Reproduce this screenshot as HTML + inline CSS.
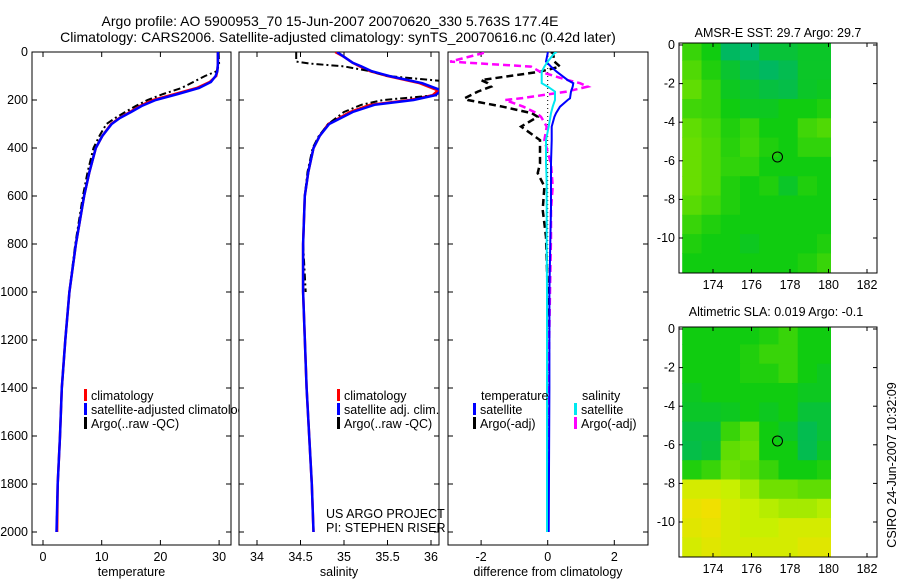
<!DOCTYPE html>
<html><head><meta charset="utf-8"><style>
html,body{margin:0;padding:0;background:#fff}
svg{display:block;font-family:"Liberation Sans",sans-serif}
</style></head><body>
<svg id="fig" width="900" height="580" viewBox="0 0 900 580">
<text x="330" y="26" font-size="14" text-anchor="middle">Argo profile: AO 5900953_70 15-Jun-2007 20070620_330 5.763S 177.4E</text>
<text x="338" y="42" font-size="14" text-anchor="middle">Climatology: CARS2006. Satellite-adjusted climatology: synTS_20070616.nc (0.42d later)</text>
<text x="778" y="37" font-size="12.5" text-anchor="middle">AMSR-E SST: 29.7 Argo: 29.7</text>
<text x="776" y="316" font-size="12.5" text-anchor="middle">Altimetric SLA: 0.019 Argo: -0.1</text>
<text transform="translate(896,465) rotate(-90)" font-size="12.5" text-anchor="middle">CSIRO 24-Jun-2007 10:32:09</text>
</svg>
<script>
// ---- data ----
const depthT = [0,50,80,100,125,150,175,200,225,250,275,300,350,400,500,600,800,1000,1200,1400,1600,1800,2000];
const climT  = [29.8,29.8,29.7,29.5,28.4,26.2,22.5,18.7,16.5,14.8,13.0,11.6,10.1,9.0,7.9,7.0,5.6,4.5,3.8,3.2,2.9,2.5,2.4];
const satT   = [29.8,29.8,29.7,29.4,28.6,26.6,23.0,19.2,16.8,15.0,13.1,11.7,10.1,9.0,7.9,7.0,5.6,4.5,3.8,3.2,2.9,2.5,2.3];
const argoT  = [29.9,30.0,29.6,27.6,25.6,23.6,20.5,17.8,15.8,14.0,12.3,10.8,9.6,8.6,7.6,6.8,5.5,4.5,3.8,3.2,2.9,2.5,2.3];
const depthS = [0,20,45,60,80,100,130,160,180,200,220,250,300,350,400,500,600,800,1000,1400,1600,1800,2000];
const climS  = [34.9,35.0,35.1,35.18,35.3,35.5,35.87,36.08,36.02,35.76,35.3,35.07,34.82,34.72,34.65,34.59,34.55,34.53,34.53,34.57,34.6,34.63,34.65];
const satS   = [34.92,35.0,35.1,35.2,35.32,35.52,35.9,36.12,36.05,35.8,35.35,35.1,34.83,34.72,34.65,34.59,34.55,34.53,34.53,34.57,34.6,34.63,34.65];
const depthSA= [0,40,48,60,80,100,120,140,160,180,200,220,250,300,350,400,500,600,800,1000];
const argoS  = [34.45,34.45,34.6,35.0,35.3,35.5,36.1,36.3,36.2,36.07,35.45,35.2,35.0,34.82,34.71,34.64,34.58,34.55,34.53,34.56];
const depthD = [0,5,40,61,82,117,130,144,165,193,200,228,255,270,311,367,465,505,560,658,770,1000,1400,2000];
const dTargo = [0.1,0.16,0.2,0.37,-0.23,-2.0,-1.8,-1.7,-2.1,-2.5,-2.4,-1.35,-0.48,-0.3,-0.8,-0.23,-0.23,-0.3,-0.1,-0.15,-0.05,0,0,0];
const dTsat  = [0,0,-0.05,0.1,0.27,0.6,0.77,0.75,0.7,0.67,0.6,0.37,0.25,0.2,0.12,0.12,0.1,0.1,0.1,0.1,0.08,0.05,0.05,0.03];
const dSargo = [-1.95,-1.95,-2.93,-0.5,-0.23,0.6,0.97,1.2,0.57,-0.8,-1.28,-0.73,-0.33,-0.2,-0.03,-0.1,0.1,0.12,0.15,0.1,0.1,0.07,0.02,0];
const dSsat  = [0.27,0.2,0.0,-0.1,-0.18,-0.18,-0.18,0.0,0.22,0.22,0.22,0.15,0.1,0.08,0.03,-0.05,-0.05,-0.04,-0.03,-0.03,-0.03,-0.02,-0.02,-0.02];
const depthTicks = [0,200,400,600,800,1000,1200,1400,1600,1800,2000];
const tempTicks = [0,10,20,30];
const salTicks = [34,34.5,35,35.5,36];
const diffTicks = [-2,0,2];
const lonTicks = [174,176,178,180,182];
const latTicks = [0,-2,-4,-6,-8,-10];
const gridLons = [172.4,173.4,174.4,175.4,176.4,177.4,178.4,179.4];
const gridLats = [0.2,-0.8,-1.8,-2.8,-3.8,-4.8,-5.8,-6.8,-7.8,-8.8,-9.8,-10.8];
const sstGrid = [
[0.55,0.5,0.4,0.38,0.45,0.45,0.47,0.47],
[0.58,0.52,0.46,0.42,0.4,0.42,0.47,0.47],
[0.6,0.55,0.48,0.46,0.44,0.43,0.47,0.48],
[0.56,0.55,0.5,0.48,0.48,0.5,0.5,0.52],
[0.6,0.57,0.52,0.55,0.5,0.5,0.56,0.58],
[0.61,0.58,0.53,0.56,0.52,0.5,0.54,0.54],
[0.61,0.58,0.54,0.54,0.5,0.5,0.5,0.5],
[0.61,0.58,0.52,0.5,0.52,0.47,0.52,0.5],
[0.59,0.56,0.52,0.5,0.5,0.5,0.5,0.5],
[0.55,0.52,0.5,0.5,0.5,0.5,0.5,0.5],
[0.52,0.5,0.5,0.48,0.5,0.5,0.5,0.52],
[0.5,0.5,0.5,0.5,0.5,0.5,0.52,0.55]];
const slaGrid = [
[0.5,0.5,0.5,0.5,0.52,0.55,0.5,0.5],
[0.5,0.5,0.5,0.52,0.55,0.55,0.5,0.5],
[0.5,0.5,0.5,0.52,0.52,0.55,0.5,0.48],
[0.48,0.5,0.5,0.5,0.5,0.5,0.48,0.48],
[0.47,0.47,0.48,0.5,0.48,0.5,0.45,0.45],
[0.44,0.44,0.55,0.6,0.5,0.47,0.42,0.45],
[0.43,0.45,0.6,0.62,0.5,0.5,0.42,0.47],
[0.52,0.55,0.62,0.6,0.55,0.5,0.5,0.52],
[0.75,0.75,0.72,0.68,0.62,0.62,0.6,0.6],
[0.8,0.82,0.75,0.72,0.7,0.68,0.68,0.7],
[0.78,0.8,0.75,0.72,0.72,0.75,0.75,0.75],
[0.75,0.78,0.75,0.75,0.75,0.75,0.78,0.78]];
const argoLon = 177.35, argoLat = -5.8;

// ---- helpers ----
const NS='http://www.w3.org/2000/svg';
const svg=document.getElementById('fig');
function mk(tag,attrs,parent){const e=document.createElementNS(NS,tag);for(const k in attrs)e.setAttribute(k,attrs[k]);(parent||svg).appendChild(e);return e;}
const yD = d => 52 + d*0.24;
function clip(id,x,y,w,h){const c=mk('clipPath',{id:id});mk('rect',{x:x,y:y,width:w,height:h},c);}

function panel(name,x0,x1,xs,ticks,fmt,label,showY){
  const g=mk('g',{});
  
  
  const frame=mk('rect',{x:x0,y:52,width:x1-x0,height:493,fill:'none',stroke:'#000','stroke-width':1},g);
  
  
  ticks.forEach(t=>{const x=xs(t);
    mk('line',{x1:x,x2:x,y1:545,y2:540,stroke:'#000'},g);
    mk('line',{x1:x,x2:x,y1:52,y2:57,stroke:'#000'},g);
    const tl=mk('text',{x:x,y:561,'font-size':12.5,'text-anchor':'middle'},g);tl.textContent=fmt(t);
    
    
  });
  depthTicks.forEach(d=>{const y=yD(d);
    mk('line',{x1:x0,x2:x0+5,y1:y,y2:y,stroke:'#000'},g);
    mk('line',{x1:x1,x2:x1-5,y1:y,y2:y,stroke:'#000'},g);
    if(showY){const tl=mk('text',{x:x0-4,y:y+4,'font-size':12.5,'text-anchor':'end'},g);tl.textContent=d;
      
      }
  });
  const xl=mk('text',{x:(x0+x1)/2,y:576,'font-size':12.5,'text-anchor':'middle'},g);xl.textContent=label;
  
  
  clip(name+'-clip',x0,52,x1-x0,493);
}
function line(name,clipId,xs,vals,depths,color,w,dash){
  const pts=vals.map((v,i)=>xs(v).toFixed(1)+','+yD(depths[i]).toFixed(1)).join(' ');
  const p=mk('polyline',{points:pts,fill:'none',stroke:color,'stroke-width':w,'clip-path':'url(#'+clipId+')'});
  if(dash)p.setAttribute('stroke-dasharray',dash);
  
  
}
function legend(name,x,y,color,txt,clipId){
  if(color){const b=mk('rect',{x:x,y:y-9,width:3,height:12,fill:color});
    
    }
  const t=mk('text',{x:x+7,y:y+2,'font-size':12.5});t.textContent=txt;
  if(clipId)t.setAttribute('clip-path','url(#'+clipId+')');
  
  
}

// temperature panel
const xT=v=>43+v*5.87;
panel('temperature-panel',32,231,xT,tempTicks,t=>t,'temperature',true);
line('temperature-climatology','temperature-panel-clip',xT,climT,depthT,'#ff0000',2.5);
line('temperature-argo','temperature-panel-clip',xT,argoT,depthT,'#000',2,'7,3,2,3');
line('temperature-satellite-adjusted','temperature-panel-clip',xT,satT,depthT,'#0000ff',2.5);
clip('leg1clip',32,380,207,60);
legend('legend-climatology',84,398,'#ff0000','climatology');
legend('legend-satellite-adjusted',84,412,'#0000ff','satellite-adjusted climatology','leg1clip');
legend('legend-argo',84,426,'#000','Argo(..raw -QC)');

// salinity panel
const xS=v=>257+(v-34)*87;
panel('salinity-panel',239,439,xS,salTicks,t=>t,'salinity',false);
line('salinity-climatology','salinity-panel-clip',xS,climS,depthS,'#ff0000',2.5);
line('salinity-argo','salinity-panel-clip',xS,argoS,depthSA,'#000',2,'7,3,2,3');
line('salinity-satellite-adjusted','salinity-panel-clip',xS,satS,depthS,'#0000ff',2.5);
legend('legend-sal-climatology',337,398,'#ff0000','climatology');
legend('legend-sal-satellite',337,412,'#0000ff','satellite adj. clim.');
legend('legend-sal-argo',337,426,'#000','Argo(..raw -QC)');
legend('project-name',319,516,null,'US ARGO PROJECT');
legend('pi-name',319,530,null,'PI: STEPHEN RISER');

// difference panel
const xDf=v=>547.7+v*33.3;
panel('difference-panel',448,648,xDf,diffTicks,t=>t,'difference from climatology',false);
line('zero-line','difference-panel-clip',xDf,[0,0],[0,2000],'#000',1,'1,3');
line('temp-argo-diff','difference-panel-clip',xDf,dTargo,depthD,'#000',2.5,'7,4');
line('sal-argo-diff','difference-panel-clip',xDf,dSargo,depthD,'#ff00ff',2.5,'7,4');
line('temp-satellite-diff','difference-panel-clip',xDf,dTsat,depthD,'#0000ff',2);
line('sal-satellite-diff','difference-panel-clip',xDf,dSsat,depthD,'#00e8f0',2);
legend('legend-temperature-heading',474,398,null,'temperature');
legend('legend-temp-satellite',473,412,'#0000ff','satellite');
legend('legend-temp-argo',473,426,'#000','Argo(-adj)');
legend('legend-salinity-heading',575,398,null,'salinity');
legend('legend-sal-satellite-diff',574,412,'#00e8f0','satellite');
legend('legend-sal-argo-diff',574,426,'#ff00ff','Argo(-adj)');

// maps
const stops=[[0,[0,80,255]],[0.25,[0,200,200]],[0.4,[0,184,96]],[0.5,[16,204,16]],[0.62,[112,224,0]],[0.72,[200,240,0]],[0.82,[240,224,0]],[0.95,[240,176,0]]];
function cmap(v){for(let i=1;i<stops.length;i++){if(v<=stops[i][0]){const a=stops[i-1],b=stops[i],f=(v-a[0])/(b[0]-a[0]);
  return 'rgb('+a[1].map((c,k)=>Math.round(c+(b[1][k]-c)*f)).join(',')+')';}}return 'rgb(240,176,0)';}
function map(name,top,lat0y,grid){
  const g=mk('g',{});
  
  
  const xL=lon=>713+(lon-174)*19.25, yL=lat=>lat0y-lat*19.3;
  const bottom=top+230;
  grid.forEach((row,r)=>row.forEach((v,c)=>{
    const x=xL(gridLons[c]), y=Math.max(top,yL(gridLats[r]));
    const x2=c<gridLons.length-1?xL(gridLons[c+1]):xL(180.1);
    const y2=r<gridLats.length-1?yL(gridLats[r+1]):bottom;
    const cell=mk('rect',{x:x.toFixed(1),y:y.toFixed(1),width:(x2-x+0.5).toFixed(1),height:(Math.min(y2,bottom)-y+0.5).toFixed(1),fill:cmap(v)},g);
    
    
  }));
  const fr=mk('rect',{x:679,y:top,width:198,height:230,fill:'none',stroke:'#000'},g);
  
  
  lonTicks.forEach(l=>{const x=xL(l);
    mk('line',{x1:x,x2:x,y1:bottom,y2:bottom-4,stroke:'#000'},g);
    mk('line',{x1:x,x2:x,y1:top,y2:top+4,stroke:'#000'},g);
    const t=mk('text',{x:x,y:bottom+16,'font-size':12.5,'text-anchor':'middle'},g);t.textContent=l;
    
    });
  latTicks.forEach(l=>{const y=yL(l);
    mk('line',{x1:679,x2:683,y1:y,y2:y,stroke:'#000'},g);
    mk('line',{x1:877,x2:873,y1:y,y2:y,stroke:'#000'},g);
    const t=mk('text',{x:675,y:y+4,'font-size':12.5,'text-anchor':'end'},g);t.textContent=l;
    
    });
  const m=mk('circle',{cx:xL(argoLon),cy:yL(argoLat),r:5,fill:'none',stroke:'#000'},g);
  
  
}
map('sst-map',43,45,sstGrid);
map('sla-map',327,329,slaGrid);
</script>
</body></html>
